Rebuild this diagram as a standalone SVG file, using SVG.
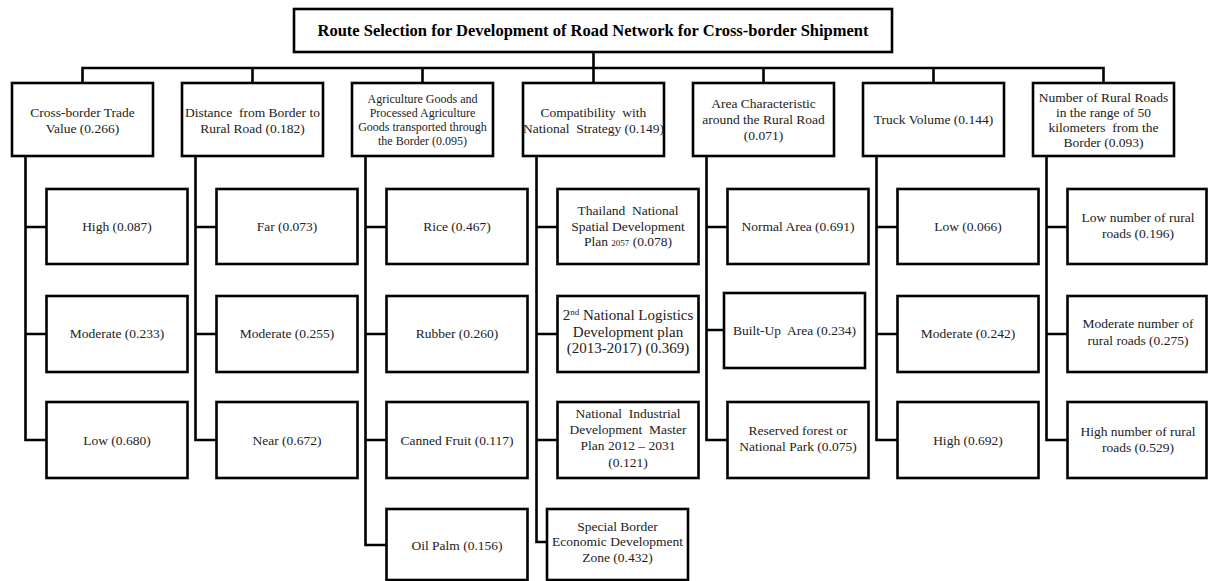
<svg xmlns="http://www.w3.org/2000/svg" width="1208" height="581" viewBox="0 0 1208 581">
<style>
.box{fill:#fff;stroke:#000;stroke-width:2.6}
.ln{fill:none;stroke:#000;stroke-width:2.6;stroke-linecap:square}
.t{font-family:"Liberation Serif","Times New Roman",serif;font-size:13.5px;text-anchor:middle;fill:#222}
.s{font-size:12px}
.b{font-size:15px}
.title{font-family:"Liberation Serif","Times New Roman",serif;font-size:16.5px;font-weight:bold;text-anchor:middle;fill:#000}
</style>
<rect width="1208" height="581" fill="#fff"/>
<g id="connectors" class="ln">
<path d="M593.5,52V68M82.5,68H1103.5M82.5,68V83M252.5,68V83M422.5,68V83M593.5,68V83M763.5,68V83M933.5,68V83M1103.5,68V83"/>
<path d="M25.5,156V440M25.5,227H46.5M25.5,334H46.5M25.5,440H46.5"/>
<path d="M195.5,156V440M195.5,227H216.5M195.5,334H216.5M195.5,440H216.5"/>
<path d="M365.5,156V545M365.5,227H386.5M365.5,334H386.5M365.5,440H386.5M365.5,545H386.5"/>
<path d="M536.5,156V542M536.5,227H557.5M536.5,334H557.5M536.5,440H557.5M536.5,542H547"/>
<path d="M706.5,156V440M706.5,227H727.5M706.5,330H724M706.5,440H727.5"/>
<path d="M876.5,156V440M876.5,227H897.5M876.5,334H897.5M876.5,440H897.5"/>
<path d="M1046.5,156V440M1046.5,227H1067.5M1046.5,334H1067.5M1046.5,440H1067.5"/>
</g>
<g id="root"><rect class="box" x="294" y="9" width="598" height="43"/><text class="title" x="593" y="36">Route Selection for Development of Road Network for Cross-border Shipment</text></g>
<g id="c1"><rect class="box" x="12" y="83" width="141" height="73"/><text class="t" x="82.5" y="116.5">Cross-border Trade</text><text class="t" x="82.5" y="132.5">Value (0.266)</text></g>
<g id="c2"><rect class="box" x="182" y="83" width="141" height="73"/><text class="t" x="252.5" y="116.5" xml:space="preserve">Distance  from Border to</text><text class="t" x="252.5" y="132.5">Rural Road (0.182)</text></g>
<g id="c3"><rect class="box" x="352" y="83" width="141" height="73"/><text class="t s" x="422.5" y="103">Agriculture Goods and</text><text class="t s" x="422.5" y="117">Processed Agriculture</text><text class="t s" x="422.5" y="131">Goods transported through</text><text class="t s" x="422.5" y="144.5">the Border (0.095)</text></g>
<g id="c4"><rect class="box" x="523" y="83" width="141" height="73"/><text class="t" x="593.5" y="116.5" xml:space="preserve">Compatibility  with</text><text class="t" x="593.5" y="132.5" xml:space="preserve">National  Strategy (0.149)</text></g>
<g id="c5"><rect class="box" x="693" y="83" width="141" height="73"/><text class="t" x="763.5" y="107.5">Area Characteristic</text><text class="t" x="763.5" y="123.5">around the Rural Road</text><text class="t" x="763.5" y="139.5">(0.071)</text></g>
<g id="c6"><rect class="box" x="863" y="83" width="141" height="73"/><text class="t" x="933.5" y="124">Truck Volume (0.144)</text></g>
<g id="c7"><rect class="box" x="1033" y="83" width="141" height="73"/><text class="t" x="1103.5" y="101.5">Number of Rural Roads</text><text class="t" x="1103.5" y="116.5">in the range of 50</text><text class="t" x="1103.5" y="131.5" xml:space="preserve">kilometers  from the</text><text class="t" x="1103.5" y="146.5">Border (0.093)</text></g>

<g id="c1a"><rect class="box" x="46.5" y="189" width="141" height="75"/><text class="t" x="117" y="231">High (0.087)</text></g>
<g id="c1b"><rect class="box" x="46.5" y="296" width="141" height="76"/><text class="t" x="117" y="337.5">Moderate (0.233)</text></g>
<g id="c1c"><rect class="box" x="46.5" y="402" width="141" height="76"/><text class="t" x="117" y="444.5">Low (0.680)</text></g>

<g id="c2a"><rect class="box" x="216.5" y="189" width="141" height="75"/><text class="t" x="287" y="231">Far (0.073)</text></g>
<g id="c2b"><rect class="box" x="216.5" y="296" width="141" height="76"/><text class="t" x="287" y="337.5">Moderate (0.255)</text></g>
<g id="c2c"><rect class="box" x="216.5" y="402" width="141" height="76"/><text class="t" x="287" y="444.5">Near (0.672)</text></g>

<g id="c3a"><rect class="box" x="386.5" y="189" width="141" height="75"/><text class="t" x="457" y="231">Rice (0.467)</text></g>
<g id="c3b"><rect class="box" x="386.5" y="296" width="141" height="76"/><text class="t" x="457" y="337.5">Rubber (0.260)</text></g>
<g id="c3c"><rect class="box" x="386.5" y="402" width="141" height="76"/><text class="t" x="457" y="444.5">Canned Fruit (0.117)</text></g>
<g id="c3d"><rect class="box" x="386.5" y="509" width="141" height="71"/><text class="t" x="457" y="549.5">Oil Palm (0.156)</text></g>

<g id="c4a"><rect class="box" x="557.5" y="189" width="141" height="75"/><text class="t" x="628" y="214.5" xml:space="preserve">Thailand  National</text><text class="t" x="628" y="230.5">Spatial Development</text><text class="t" x="628" y="245.5">Plan <tspan font-size="9">2057</tspan> (0.078)</text></g>
<g id="c4b"><rect class="box" x="557.5" y="296" width="141" height="76"/><text class="t b" x="628" y="320">2<tspan font-size="9" dy="-5">nd</tspan><tspan dy="5"> National Logistics</tspan></text><text class="t b" x="628" y="337">Development plan</text><text class="t b" x="628" y="353">(2013-2017) (0.369)</text></g>
<g id="c4c"><rect class="box" x="557.5" y="402" width="141" height="76"/><text class="t" x="628" y="417.5" xml:space="preserve">National  Industrial</text><text class="t" x="628" y="433.5" xml:space="preserve">Development  Master</text><text class="t" x="628" y="449.5">Plan 2012 – 2031</text><text class="t" x="628" y="466.5">(0.121)</text></g>
<g id="c4d"><rect class="box" x="547" y="509" width="141" height="71"/><text class="t" x="617.5" y="530.5">Special Border</text><text class="t" x="617.5" y="545.5">Economic Development</text><text class="t" x="617.5" y="561.5">Zone (0.432)</text></g>

<g id="c5a"><rect class="box" x="727.5" y="189" width="141" height="75"/><text class="t" x="798" y="231">Normal Area (0.691)</text></g>
<g id="c5b"><rect class="box" x="724" y="293" width="141" height="75"/><text class="t" x="794.5" y="334.5" xml:space="preserve">Built-Up  Area (0.234)</text></g>
<g id="c5c"><rect class="box" x="727.5" y="402" width="141" height="76"/><text class="t" x="798" y="434.5">Reserved forest or</text><text class="t" x="798" y="450.5">National Park (0.075)</text></g>

<g id="c6a"><rect class="box" x="897.5" y="189" width="141" height="75"/><text class="t" x="968" y="231">Low (0.066)</text></g>
<g id="c6b"><rect class="box" x="897.5" y="296" width="141" height="76"/><text class="t" x="968" y="337.5">Moderate (0.242)</text></g>
<g id="c6c"><rect class="box" x="897.5" y="402" width="141" height="76"/><text class="t" x="968" y="444.5">High (0.692)</text></g>

<g id="c7a"><rect class="box" x="1067.5" y="189" width="139" height="75"/><text class="t" x="1138" y="221.5">Low number of rural</text><text class="t" x="1138" y="237.5">roads (0.196)</text></g>
<g id="c7b"><rect class="box" x="1067.5" y="296" width="139" height="76"/><text class="t" x="1138" y="327.5">Moderate number of</text><text class="t" x="1138" y="344.5">rural roads (0.275)</text></g>
<g id="c7c"><rect class="box" x="1067.5" y="402" width="139" height="76"/><text class="t" x="1138" y="435.5">High number of rural</text><text class="t" x="1138" y="451.5">roads (0.529)</text></g>
</svg>
